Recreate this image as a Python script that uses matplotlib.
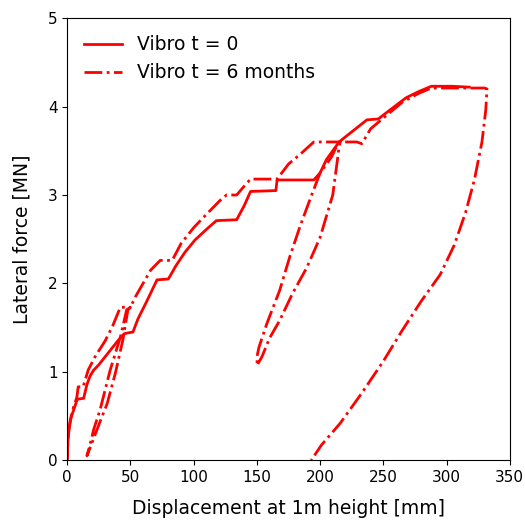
import numpy as np
import matplotlib.pyplot as plt

# Vibro t = 0 (loading only)
x_t0 = [0, 0.5, 1.5, 3, 8, 13, 15.5, 18, 21, 25, 30, 35, 40, 45, 48, 52, 56, 63, 71, 80,
        86, 93, 101, 110, 118, 134, 140, 145, 165, 166, 195, 200, 205, 210, 215, 222,
        237, 246, 256, 268, 278, 288, 305, 318]
y_t0 = [0, 0.2, 0.35, 0.48, 0.69, 0.70, 0.85, 0.95, 1.02, 1.08, 1.17, 1.26, 1.35, 1.43, 1.44,
        1.45, 1.6, 1.8, 2.04, 2.05, 2.2, 2.35, 2.49, 2.61, 2.71, 2.72, 2.88, 3.04, 3.05,
        3.17, 3.17, 3.25, 3.4, 3.5, 3.6, 3.68, 3.85, 3.86, 3.97, 4.1, 4.17, 4.23, 4.23, 4.22]

# Vibro t = 6 months (with unloading / reloading loops)
x_t6 = [0, 0.7, 2.4, 5, 7.6, 8.7, 12.6, 16.6, 22, 30, 36, 42, 48, 50,
        # first unloading
        48, 44, 38, 31.6, 25, 20.5, 15.6,
        # reloading
        17, 21, 26, 34, 42, 47, 50,
        # loading continues
        54, 60, 66, 73.5, 83, 90, 100, 110, 121, 126, 134, 140, 145, 166, 175, 185, 195,
        205, 216,
        # second unloading
        215, 214, 210, 200, 189.5, 178, 168, 160, 154, 150,
        # reloading
        150.5, 151.7, 158, 168, 176, 184, 192, 200, 209, 213, 216,
        # loading continues
        229, 233, 240, 250, 265, 278, 288, 310, 330,
        # final unloading
        332, 331, 328, 322, 315, 306, 295, 280, 265, 250, 233, 216, 201, 193]
y_t6 = [0, 0.3, 0.45, 0.6, 0.71, 0.83, 0.83, 1.02, 1.17, 1.35, 1.52, 1.73, 1.73, 1.73,
        1.7, 1.36, 0.98, 0.64, 0.4, 0.23, 0.05,
        0.12, 0.35, 0.57, 1.02, 1.39, 1.7, 1.73,
        1.85, 2.0, 2.15, 2.26, 2.26, 2.45, 2.63, 2.78, 2.94, 3.0, 3.0, 3.1, 3.18, 3.18,
        3.35, 3.47, 3.6, 3.6, 3.6,
        3.55, 3.43, 3.0, 2.52, 2.18, 1.88, 1.58, 1.38, 1.17, 1.07,
        1.2, 1.28, 1.55, 1.92, 2.3, 2.64, 2.95, 3.25, 3.43, 3.55, 3.6,
        3.6, 3.58, 3.75, 3.87, 4.05, 4.15, 4.21, 4.21, 4.21,
        4.2, 3.96, 3.6, 3.17, 2.8, 2.43, 2.1, 1.8, 1.47, 1.12, 0.76, 0.42, 0.17, 0.0]

plt.figure(figsize=(5.25, 5.2), dpi=100)
ax = plt.axes([0.128, 0.115, 0.843, 0.85])

ax.plot(x_t0, y_t0, color="red", lw=2, linestyle="-", label="Vibro t = 0")
ax.plot(x_t6, y_t6, color="red", lw=2, linestyle="-.", label="Vibro t = 6 months")

ax.set_xlim(0, 350)
ax.set_ylim(0, 5)
ax.set_xlabel("Displacement at 1m height [mm]", fontsize=13.5, labelpad=10)
ax.set_ylabel("Lateral force [MN]", fontsize=13.5, labelpad=12)
ax.tick_params(labelsize=11)
ax.legend(loc="upper left", frameon=False, fontsize=13.5)

plt.savefig("out.png", dpi=100)
